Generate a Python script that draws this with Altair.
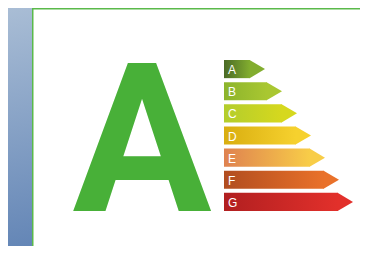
import altair as alt
import pandas as pd

# ---- data ----
classes = ["A", "B", "C", "D", "E", "F", "G"]
lengths = [41, 58, 73, 87, 101, 115, 129]          # arrow length (tip) per class
start_colors = ["#4a6a26", "#8cb42c", "#b3cd2c", "#d9ae10", "#df8250", "#b14d1f", "#b11f20"]
end_colors = ["#82ad2f", "#a9c731", "#d6d81e", "#f6d12e", "#f8cd48", "#e9712a", "#e2302b"]
rating = ["A"]

HEAD = 15
W, H = 352, 238

df = pd.DataFrame({"cls": classes, "length": lengths})
one = pd.DataFrame({"k": [0]})

xscale = alt.Scale(domain=[0, 140], range=[216, 356])
yscale = alt.Scale(domain=classes, range=[52, 203], paddingInner=0.18, paddingOuter=0)

def grad(c0, c1, x2=1, y2=0):
    return {"gradient": "linear", "x1": 0, "y1": 0, "x2": x2, "y2": y2,
            "stops": [{"offset": 0, "color": c0}, {"offset": 1, "color": c1}]}

background = alt.Chart(one).mark_rect(
    color=grad("#a9bdd5", "#5f82b4", 0.3, 1)
).encode(x=alt.value(0), x2=alt.value(W), y=alt.value(0), y2=alt.value(H))

panel = alt.Chart(one).mark_rect(
    fill="white", stroke="#5ab94a", strokeWidth=1.5
).encode(x=alt.value(24.75), x2=alt.value(W + 20), y=alt.value(0.75), y2=alt.value(H + 20))

big = alt.Chart(pd.DataFrame({"rating": rating})).mark_text(
    font="Roboto", fontWeight="bold", fontSize=207, color="#48b038",
    align="center", baseline="alphabetic"
).encode(text="rating:N", x=alt.value(134), y=alt.value(202.5))

base = alt.Chart(df).transform_calculate(zero="0", body=f"datum.length - {HEAD}")

bars = []
for i, c in enumerate(classes):
    bars.append(
        base.transform_filter(alt.datum.cls == c).mark_bar(
            color=grad(start_colors[i], end_colors[i])
        ).encode(
            x=alt.X("zero:Q", scale=xscale, axis=None),
            x2="body:Q",
            y=alt.Y("cls:N", scale=yscale, axis=None),
        )
    )

heads = base.mark_point(
    shape="M-1.7,-1L0,0L-1.7,1Z", size=328, filled=True, opacity=1, strokeWidth=0
).encode(
    x=alt.X("length:Q", scale=xscale, axis=None),
    y=alt.Y("cls:N", scale=yscale, axis=None),
    color=alt.Color("cls:N", scale=alt.Scale(domain=classes, range=end_colors), legend=None),
)

letters = base.mark_text(
    align="left", baseline="middle", color="white", fontSize=12,
    font="Liberation Sans", dx=4, dy=1
).encode(
    x=alt.X("zero:Q", scale=xscale, axis=None),
    y=alt.Y("cls:N", scale=yscale, axis=None),
    text="cls:N",
)

chart = alt.layer(background, panel, big, *bars, heads, letters).properties(
    width=W, height=H, autosize=alt.AutoSizeParams(type="none"), padding=0
).configure_view(stroke=None)

chart.save("out.html", embed_options={"renderer": "svg", "actions": False})
